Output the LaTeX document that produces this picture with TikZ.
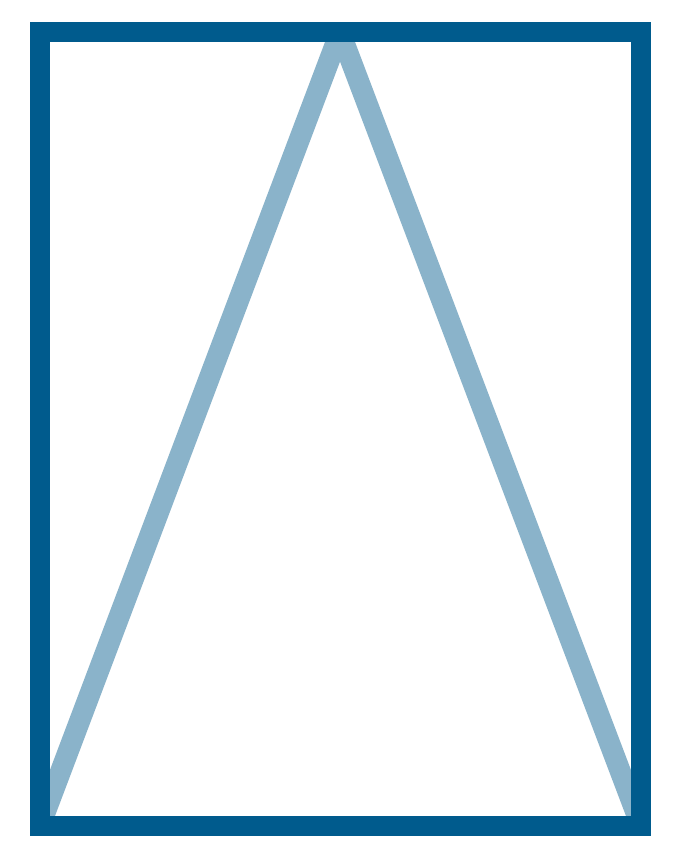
\documentclass[tikz,border=0pt]{standalone}
\definecolor{framecol}{RGB}{0,91,141}
\definecolor{tricol}{RGB}{138,179,202}
\begin{document}
\begin{tikzpicture}[x=1pt,y=1pt,
  framestyle/.style={draw=framecol,line width=20pt,line join=miter},
  tristyle/.style={draw=tricol,line width=21pt,line join=bevel}]
\useasboundingbox (0,0) rectangle (675,866);
\fill[white] (0,0) rectangle (675,866);
\coordinate (bl) at (40,40);
\coordinate (apex) at (340,834);
\coordinate (br) at (641,40);
\draw[tristyle] (bl) -- (apex) -- (br);
\draw[framestyle] (40,40) rectangle (641,834);
\end{tikzpicture}
\end{document}
